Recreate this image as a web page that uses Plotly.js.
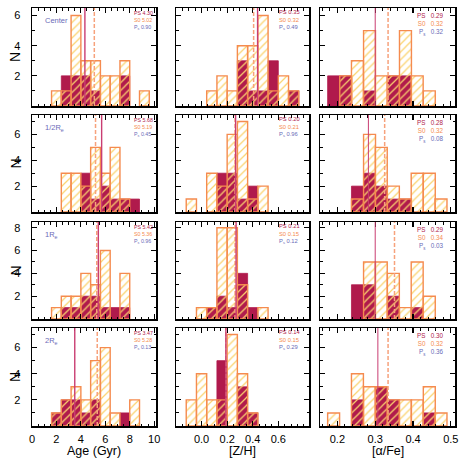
<!DOCTYPE html>
<html>
<head>
<meta charset="utf-8">
<script src="https://cdn.plot.ly/plotly-3.0.1.min.js"></script>
<style>
  html, body { margin: 0; padding: 0; background: #fff; }
  #chart { width: 463px; height: 463px; }
</style>
</head>
<body>
<div id="chart"></div>
<script>
// rows: Center, 1/2 Re, 1 Re, 2 Re
const ROW_LABELS = ['Center', '1/2R<sub>e</sub>', '1R<sub>e</sub>', '2R<sub>e</sub>'];

// bin centres per quantity
const AGE_BINS = [2.0, 2.8, 3.6, 4.4, 5.2, 6.0, 6.8, 7.6, 8.4, 9.2];
const ZH_BINS = [-0.08, 0.0, 0.08, 0.16, 0.24, 0.32, 0.40, 0.48, 0.56, 0.64, 0.72];
const AFE_BINS = [0.190, 0.222, 0.253, 0.285, 0.316, 0.348, 0.380, 0.411, 0.443, 0.474];

// counts, one row per radius
const AGE_S0 = [
  [1, 1, 6, 3, 3, 2, 2, 3, 0, 1],
  [0, 3, 3, 2, 5, 3, 5, 1, 0, 0],
  [1, 2, 2, 4, 3, 6, 0, 4, 0, 0],
  [1, 2, 3, 2, 5, 6, 1, 0, 2, 0],
];
const AGE_PS = [
  [0, 2, 2, 2, 1, 0, 0, 2, 0, 0],
  [0, 0, 0, 3, 1, 2, 1, 1, 1, 0],
  [0, 1, 1, 2, 2, 1, 1, 1, 0, 0],
  [1, 2, 2, 1, 2, 0, 0, 1, 0, 0],
];
const ZH_S0 = [
  [0, 0, 1, 2, 1, 4, 4, 6, 1, 2, 1],
  [1, 0, 3, 2, 6, 7, 1, 2, 0, 0, 0],
  [0, 1, 1, 8, 8, 3, 0, 1, 0, 0, 0],
  [2, 4, 2, 2, 7, 4, 1, 0, 0, 0, 0],
];
const ZH_PS = [
  [0, 0, 0, 0, 0, 3, 1, 1, 3, 0, 1],
  [0, 0, 0, 3, 3, 1, 2, 0, 0, 0, 0],
  [0, 0, 1, 2, 1, 4, 1, 0, 0, 0, 0],
  [0, 0, 0, 5, 0, 3, 1, 0, 0, 0, 0],
];
const AFE_S0 = [
  [0, 2, 3, 5, 2, 2, 5, 2, 1, 0],
  [0, 0, 1, 6, 5, 2, 1, 3, 3, 1],
  [0, 0, 0, 5, 5, 4, 1, 5, 2, 0],
  [1, 0, 4, 3, 3, 2, 2, 2, 3, 1],
];
const AFE_PS = [
  [2, 2, 0, 1, 0, 2, 2, 0, 0, 0],
  [0, 0, 2, 3, 2, 1, 1, 0, 0, 0],
  [0, 0, 3, 3, 0, 2, 0, 1, 0, 0],
  [0, 0, 2, 0, 3, 2, 0, 0, 1, 0],
];

// medians as printed, and where the median lines are drawn
const AGE_MED_PS = [4.30, 5.68, 5.42, 3.47];
const AGE_MED_S0 = [5.02, 5.19, 5.36, 5.28];
const AGE_P = [0.90, 0.45, 0.96, 0.13];
const ZH_MED_PS = [0.35, 0.20, 0.21, 0.14];
const ZH_MED_S0 = [0.32, 0.21, 0.15, 0.15];
const ZH_P = [0.49, 0.96, 0.12, 0.29];
const AFE_MED_PS = [0.29, 0.28, 0.29, 0.30];
const AFE_MED_S0 = [0.32, 0.32, 0.34, 0.32];
const AFE_P = [0.32, 0.08, 0.03, 0.36];

const AGE_LINE_PS = [4.33, 5.70, 5.43, 3.50];
const AGE_LINE_S0 = [5.10, 5.20, 5.30, 5.34];
const ZH_LINE_PS = [0.438, 0.266, 0.270, 0.190];
const ZH_LINE_S0 = [0.407, 0.262, 0.262, 0.190];
const AFE_LINE_PS = [0.300, 0.282, 0.300, 0.307];
const AFE_LINE_S0 = [0.334, 0.325, 0.351, 0.334];

const Y_MAX = [6.5, 7.5, 8.5, 7.5];

const C = {
  ps: '#b01a4c',
  psLine: '#c93d72',
  s0: '#f58b4f',
  s0Med: '#f7a27c',
  hatch: '#fad36e',
  note: '#6b6bb8',
};
const FONT = 'Liberation Sans, Arial, sans-serif';
const W = 463, H = 463;

// panel frames in pixels
const XPX = [[32, 156], [176, 309], [320, 455]];
const YPX = [[8, 106], [115, 212], [222, 319], [328, 426]];

const QUANT = [
  { bins: AGE_BINS, w: 0.8, s0: AGE_S0, ps: AGE_PS, medPS: AGE_MED_PS, medS0: AGE_MED_S0, p: AGE_P,
    linePS: AGE_LINE_PS, lineS0: AGE_LINE_S0, range: [0, 10.15],
    tickvals: [0, 2, 4, 6, 8, 10], fmt: (v) => String(v), minor: 0.5, title: 'Age (Gyr)' },
  { bins: ZH_BINS, w: 0.08, s0: ZH_S0, ps: ZH_PS, medPS: ZH_MED_PS, medS0: ZH_MED_S0, p: ZH_P,
    linePS: ZH_LINE_PS, lineS0: ZH_LINE_S0, range: [-0.2, 0.84],
    tickvals: [0, 0.2, 0.4, 0.6], fmt: (v) => v.toFixed(1), minor: 0.05, title: '[Z/H]' },
  { bins: AFE_BINS, w: 0.0316, s0: AFE_S0, ps: AFE_PS, medPS: AFE_MED_PS, medS0: AFE_MED_S0, p: AFE_P,
    linePS: AFE_LINE_PS, lineS0: AFE_LINE_S0, range: [0.154, 0.511],
    tickvals: [0.2, 0.3, 0.4, 0.5], fmt: (v) => v.toFixed(1), minor: 0.02, title: '[\u03b1/Fe]' },
];

// stat-note block per column: one annotation, three coloured lines
const NOTE = [
  { fs: 5.3, x: 133, anchor: 'left', gap: '&nbsp;', mid: 12.2 },
  { fs: 5.8, x: 277.5, anchor: 'left', gap: '&nbsp;', mid: 12.2 },
  { fs: 6.3, x: 443.5, anchor: 'right', gap: '&nbsp;&nbsp;&nbsp;', mid: 16.6 },
];

const nz = (arr) => arr.map((v) => (v > 0 ? v : null));
const px2x = (px) => px / W;
const px2y = (py) => 1 - py / H;

const traces = [];
const shapes = [];
const annotations = [];
const layout = {
  width: W, height: H,
  margin: { l: 0, r: 0, t: 0, b: 0 },
  paper_bgcolor: '#fff', plot_bgcolor: '#fff',
  showlegend: false,
  barmode: 'overlay',
  font: { family: FONT, color: '#000' },
};

for (let r = 0; r < 4; r++) {
  for (let c = 0; c < 3; c++) {
    const q = QUANT[c];
    const i = r * 3 + c + 1;
    const xa = 'x' + (i > 1 ? i : '');
    const ya = 'y' + (i > 1 ? i : '');

    traces.push({
      type: 'bar', x: q.bins, y: nz(q.ps[r]), width: q.w, xaxis: xa, yaxis: ya,
      marker: { color: C.ps, line: { color: C.ps, width: 0.8 } },
      hoverinfo: 'skip',
    });
    traces.push({
      type: 'bar', x: q.bins, y: nz(q.s0[r]), width: q.w, xaxis: xa, yaxis: ya,
      marker: {
        color: C.hatch,
        line: { color: C.s0, width: 1.4 },
        pattern: { shape: '/', fillmode: 'replace', size: 5.5, solidity: 0.22 },
      },
      hoverinfo: 'skip',
    });

    const axisBase = {
      showline: true, linecolor: '#000', linewidth: 1.5, mirror: 'allticks',
      ticks: 'inside', ticklen: 5, tickwidth: 1.2, tickcolor: '#000',
      showgrid: false, zeroline: false,
      tickfont: { family: FONT, size: 11, color: '#000' },
    };
    layout['xaxis' + (i > 1 ? i : '')] = Object.assign({}, axisBase, {
      domain: [px2x(XPX[c][0]), px2x(XPX[c][1])],
      anchor: ya, range: q.range,
      tickmode: 'array', tickvals: q.tickvals, ticktext: q.tickvals.map(q.fmt),
      showticklabels: r === 3, ticklabelstandoff: 2,
      minor: { ticks: 'inside', ticklen: 2.5, dtick: q.minor, tickcolor: '#000', tickwidth: 1 },
    });
    const yt = [];
    for (let v = 2; v <= Y_MAX[r]; v += 2) yt.push(v);
    layout['yaxis' + (i > 1 ? i : '')] = Object.assign({}, axisBase, {
      domain: [px2y(YPX[r][1]), px2y(YPX[r][0])],
      anchor: xa, range: [0, Y_MAX[r]],
      tickmode: 'array', tickvals: yt, ticktext: yt.map(String),
      showticklabels: c === 0, ticklabelstandoff: 8,
      minor: { ticks: 'inside', ticklen: 2.5, dtick: 1, tickcolor: '#000', tickwidth: 1 },
    });

    // median lines
    shapes.push({
      type: 'line', xref: xa, yref: ya + ' domain', x0: q.lineS0[r], x1: q.lineS0[r], y0: 0, y1: 1,
      line: { color: C.s0Med, width: 1.5, dash: '4px,2px' }, layer: 'above',
    });
    shapes.push({
      type: 'line', xref: xa, yref: ya + ' domain', x0: q.linePS[r], x1: q.linePS[r], y0: 0, y1: 1,
      line: { color: C.psLine, width: c === 2 ? 1 : 1.4 }, layer: 'above',
    });

    // stat notes: PS median, S0 median, probability
    const n = NOTE[c];
    const lines = [
      ['PS', q.medPS[r], C.ps],
      ['S0', q.medS0[r], C.s0],
      ['P<sub>s</sub>', q.p[r], C.note],
    ].map(([lab, val, col]) =>
      `<span style="color:${col}">${lab}${n.gap}${val.toFixed(2)}</span>`);
    annotations.push({
      xref: 'paper', yref: 'paper', x: px2x(n.x), y: px2y(YPX[r][0] + n.mid),
      xanchor: n.anchor, yanchor: 'middle', align: n.anchor, borderpad: 0,
      text: lines.join('<br>'), showarrow: false,
      font: { family: FONT, size: n.fs, color: C.note },
    });
  }

  // radius label and N title
  annotations.push({
    xref: 'paper', yref: 'paper', x: px2x(42.5), y: px2y(YPX[r][0] + 12.5),
    xanchor: 'left', yanchor: 'middle', text: ROW_LABELS[r], showarrow: false,
    font: { family: FONT, size: 7.5, color: C.note },
  });
  annotations.push({
    xref: 'paper', yref: 'paper', x: px2x(15), y: px2y((YPX[r][0] + YPX[r][1]) / 2),
    xanchor: 'center', yanchor: 'middle', text: 'N', textangle: -90, showarrow: false,
    font: { family: FONT, size: 14, color: '#000' },
  });
}

QUANT.forEach((q, c) => {
  annotations.push({
    xref: 'paper', yref: 'paper', x: px2x((XPX[c][0] + XPX[c][1]) / 2), y: px2y(451),
    xanchor: 'center', yanchor: 'middle', text: q.title, showarrow: false,
    font: { family: FONT, size: 12.5, color: '#000' },
  });
});

layout.shapes = shapes;
layout.annotations = annotations;

Plotly.newPlot('chart', traces, layout, { displayModeBar: false, staticPlot: true });
</script>
</body>
</html>
